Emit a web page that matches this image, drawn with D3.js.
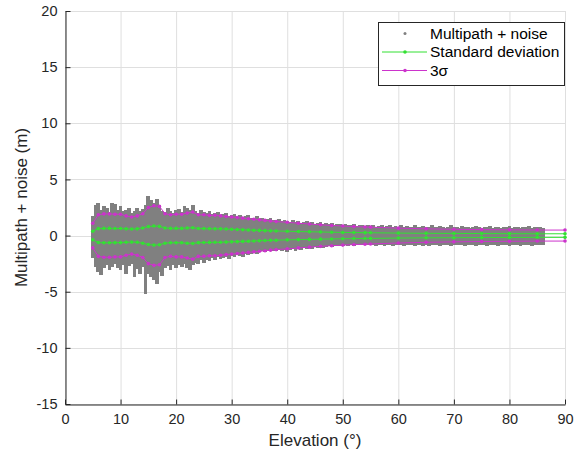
<!DOCTYPE html>
<html>
<head>
<meta charset="utf-8">
<script src="https://cdn.jsdelivr.net/npm/d3@7"></script>
<style>
  body { margin: 0; background: #fff; }
  svg { display: block; font-family: "Liberation Sans", Arial, Helvetica, sans-serif; }
</style>
</head>
<body>
<svg id="chart" width="580" height="456"></svg>
<script>
// Axis ticks
const xTicks = [0, 10, 20, 30, 40, 50, 60, 70, 80, 90];
const yTicks = [-15, -10, -5, 0, 5, 10, 15, 20];

// Multipath + noise cloud: extent of the samples in 0.5° elevation bins
const cloudElevation = [
  5, 5.5, 6, 6.5, 7, 7.5, 8, 8.5, 9, 9.5,
  10, 10.5, 11, 11.5, 12, 12.5, 13, 13.5, 14, 14.5,
  15, 15.5, 16, 16.5, 17, 17.5, 18, 18.5, 19, 19.5,
  20, 20.5, 21, 21.5, 22, 22.5, 23, 23.5, 24, 24.5,
  25, 25.5, 26, 26.5, 27, 27.5, 28, 28.5, 29, 29.5,
  30, 30.5, 31, 31.5, 32, 32.5, 33, 33.5, 34, 34.5,
  35, 35.5, 36, 36.5, 37, 37.5, 38, 38.5, 39, 39.5,
  40, 40.5, 41, 41.5, 42, 42.5, 43, 43.5, 44, 44.5,
  45, 45.5, 46, 46.5, 47, 47.5, 48, 48.5, 49, 49.5,
  50, 50.5, 51, 51.5, 52, 52.5, 53, 53.5, 54, 54.5,
  55, 55.5, 56, 56.5, 57, 57.5, 58, 58.5, 59, 59.5,
  60, 60.5, 61, 61.5, 62, 62.5, 63, 63.5, 64, 64.5,
  65, 65.5, 66, 66.5, 67, 67.5, 68, 68.5, 69, 69.5,
  70, 70.5, 71, 71.5, 72, 72.5, 73, 73.5, 74, 74.5,
  75, 75.5, 76, 76.5, 77, 77.5, 78, 78.5, 79, 79.5,
  80, 80.5, 81, 81.5, 82, 82.5, 83, 83.5, 84, 84.5,
  85, 85.5, 86
];
const cloudHigh = [
  1.7, 2.7, 2.9, 2.3, 2.6, 2.5, 2.1, 2.9, 2.8, 2.3,
  2.6, 2.2, 2.3, 2.5, 2.0, 2.2, 2.5, 2.2, 2.4, 2.7,
  3.5, 3.2, 2.9, 3.3, 2.7, 2.2, 2.1, 2.5, 2.2, 2.0,
  2.3, 2.4, 2.1, 2.6, 2.5, 2.3, 2.7, 2.2, 2.0, 2.3,
  2.1, 2.0, 2.2, 1.9, 2.0, 2.1, 1.8, 1.9, 2.0, 1.7,
  1.8, 1.9, 1.7, 1.8, 1.6, 1.7, 1.8, 1.6, 1.5, 1.7,
  1.5, 1.6, 1.4, 1.5, 1.6, 1.4, 1.4, 1.5, 1.3, 1.4,
  1.3, 1.2, 1.4, 1.2, 1.3, 1.1, 1.2, 1.3, 1.1, 1.2,
  1.0, 1.1, 1.2, 1.0, 1.1, 1.0, 1.1, 0.95, 1.0, 1.05,
  0.9, 1.0, 0.95, 0.9, 1.0, 0.85, 0.9, 0.95, 0.85, 0.9,
  0.8, 0.9, 0.8, 0.85, 0.95, 0.8, 0.85, 0.9, 0.8, 0.85,
  0.75, 0.9, 0.8, 0.85, 0.75, 0.8, 0.9, 0.75, 0.8, 0.85,
  0.75, 0.8, 0.9, 0.75, 0.8, 0.85, 0.75, 0.7, 0.8, 0.9,
  0.75, 0.8, 0.7, 0.85, 0.75, 0.8, 0.7, 0.8, 0.85, 0.75,
  0.7, 0.8, 0.75, 0.85, 0.7, 0.8, 0.75, 0.7, 0.8, 0.75,
  0.85, 0.7, 0.8, 0.75, 0.7, 0.8, 0.75, 0.85, 0.7, 0.75,
  0.8, 0.75, 0.7
];
const cloudLow = [
  -2.0, -2.8, -3.2, -3.5, -2.9, -2.6, -3.1, -2.8, -2.5, -2.9,
  -3.1, -2.6, -3.4, -2.7, -2.5, -3.7, -3.0, -3.4, -2.8, -5.2,
  -3.4, -3.7, -4.0, -4.3, -3.2, -3.6, -2.9, -2.7, -3.1, -2.6,
  -2.9, -2.6, -2.8, -2.5, -2.9, -3.1, -2.6, -2.4, -2.5, -2.2,
  -2.4, -2.2, -2.3, -2.0, -2.2, -1.9, -2.1, -2.0, -1.9, -2.1,
  -1.8, -1.9, -1.7, -1.8, -1.9, -1.6, -1.7, -1.6, -1.5, -1.6,
  -1.5, -1.4, -1.5, -1.4, -1.3, -1.4, -1.4, -1.3, -1.4, -1.3,
  -1.45, -1.3, -1.2, -1.35, -1.2, -1.25, -1.15, -1.2, -1.1, -1.2,
  -1.05, -1.1, -1.0, -1.1, -1.0, -0.95, -1.0, -0.95, -0.9, -0.95,
  -0.9, -0.85, -0.9, -0.85, -0.9, -0.8, -0.85, -0.8, -0.85, -0.8,
  -0.85, -0.8, -0.9, -0.85, -0.8, -0.95, -0.85, -0.8, -0.9, -0.85,
  -0.8, -0.85, -0.9, -0.8, -0.85, -0.8, -0.9, -0.85, -0.8, -0.9,
  -0.85, -0.9, -0.8, -0.85, -0.8, -0.9, -0.85, -0.8, -0.85, -0.9,
  -0.8, -0.85, -0.8, -0.85, -0.9, -0.8, -0.85, -0.8, -0.9, -0.85,
  -0.8, -0.85, -0.9, -0.8, -0.85, -0.8, -0.9, -0.85, -0.8, -0.85,
  -0.9, -0.8, -0.85, -0.8, -0.9, -0.85, -0.8, -0.85, -0.9, -0.8,
  -0.85, -0.8, -0.85
];

// Binned statistics of the residuals
const statElevation = [
  5, 6, 7, 8, 9, 10, 11, 12, 13, 14, 15, 16, 17, 18, 19, 20, 21, 22, 23, 24,
  25, 26, 27, 28, 29, 30, 31, 32, 33, 34, 35, 36, 37, 38,
  40, 42, 44, 46, 48, 50, 52, 54,
  55, 60, 65, 70, 75, 80, 85, 90
];
const stdDev = [
  0.38, 0.62, 0.64, 0.64, 0.63, 0.63, 0.6, 0.58, 0.6, 0.68, 0.8, 0.85, 0.82, 0.68, 0.64, 0.64, 0.64, 0.68, 0.7, 0.63,
  0.62, 0.61, 0.6, 0.6, 0.58, 0.56, 0.54, 0.52, 0.5, 0.48, 0.46, 0.44, 0.42, 0.41,
  0.38, 0.36, 0.34, 0.32, 0.3, 0.28, 0.27, 0.26,
  0.25, 0.22, 0.2, 0.19, 0.18, 0.17, 0.16, 0.16
];
const threeSigma = [
  1.1, 1.85, 1.93, 1.93, 1.9, 1.9, 1.75, 1.65, 1.75, 1.95, 2.5, 2.65, 2.6, 1.95, 1.85, 1.9, 1.9, 2.0, 2.1, 1.85,
  1.85, 1.8, 1.8, 1.75, 1.7, 1.65, 1.6, 1.55, 1.5, 1.45, 1.4, 1.35, 1.3, 1.25,
  1.18, 1.1, 1.03, 0.96, 0.9, 0.85, 0.8, 0.77,
  0.75, 0.66, 0.6, 0.56, 0.53, 0.51, 0.49, 0.49
];

const legendLabels = ["Multipath + noise", "Standard deviation", "3\u03c3"];

const colors = { cloud: "#808080", std: "#33e033", sigma3: "#cc33cc", axis: "#262626", grid: "#dfdfdf", text: "#262626" };

const svg = d3.select("#chart");
const plot = { left: 65, right: 565, top: 11, bottom: 404 };

const x = d3.scaleLinear().domain([0, 90]).range([plot.left, plot.right]);
const y = d3.scaleLinear().domain([-15, 20]).range([plot.bottom, plot.top]);

// Grid
const grid = svg.append("g");
grid.selectAll(".gx").data(xTicks).join("line")
  .attr("x1", d => x(d) + 0.5).attr("x2", d => x(d) + 0.5)
  .attr("y1", plot.top).attr("y2", plot.bottom)
  .attr("stroke", colors.grid);
grid.selectAll(".gy").data(yTicks).join("line")
  .attr("y1", d => Math.round(y(d)) + 0.5).attr("y2", d => Math.round(y(d)) + 0.5)
  .attr("x1", plot.left).attr("x2", plot.right)
  .attr("stroke", colors.grid);

// Sample cloud, one solid column per bin (edges snapped so neighbours touch)
const binHalf = 0.25;
const cloudData = d3.range(Math.min(cloudElevation.length, cloudHigh.length, cloudLow.length))
  .map(i => ({ e: cloudElevation[i], hi: cloudHigh[i], lo: cloudLow[i] }));
svg.append("g").attr("shape-rendering", "crispEdges")
  .selectAll("rect").data(cloudData).join("rect")
  .attr("x", d => Math.floor(x(d.e - binHalf)))
  .attr("width", d => Math.ceil(x(d.e + binHalf)) - Math.floor(x(d.e - binHalf)))
  .attr("y", d => Math.round(y(d.hi)))
  .attr("height", d => Math.round(y(d.lo)) - Math.round(y(d.hi)))
  .attr("fill", colors.cloud);

// Statistic lines with dot markers
const stats = statElevation.map((e, i) => ({ e, s: stdDev[i], t: threeSigma[i] }));
const seriesDefs = [
  { key: d => d.s, color: colors.std },
  { key: d => -d.s, color: colors.std },
  { key: d => d.t, color: colors.sigma3 },
  { key: d => -d.t, color: colors.sigma3 }
];
seriesDefs.forEach(def => {
  const line = d3.line().x(d => x(d.e)).y(d => y(def.key(d)));
  const g = svg.append("g");
  g.append("path").datum(stats).attr("d", line)
    .attr("fill", "none").attr("stroke", def.color).attr("stroke-width", 1);
  g.selectAll("circle").data(stats).join("circle")
    .attr("cx", d => x(d.e)).attr("cy", d => y(def.key(d))).attr("r", 1.8)
    .attr("fill", def.color);
});

// Axes (ticks pointing inward, plain hyphen for negatives)
const fmt = d => String(d);
const xAxis = d3.axisBottom(x).tickValues(xTicks).tickFormat(fmt).tickSize(-5).tickPadding(9).tickSizeOuter(0);
const yAxis = d3.axisLeft(y).tickValues(yTicks).tickFormat(fmt).tickSize(-5).tickPadding(8).tickSizeOuter(0);
const gx = svg.append("g").attr("transform", `translate(0,${plot.bottom + 0.5})`).call(xAxis);
const gy = svg.append("g").attr("transform", `translate(${plot.left + 0.5},0)`).call(yAxis);
[gx, gy].forEach(g => {
  g.select(".domain").attr("stroke", colors.axis);
  g.selectAll(".tick line").attr("stroke", colors.axis);
  g.selectAll(".tick text").attr("fill", colors.text).attr("font-size", 14.5)
    .attr("font-family", "'Liberation Sans', Arial, Helvetica, sans-serif");
});

// Axis titles
svg.append("text").attr("x", (plot.left + plot.right) / 2).attr("y", 446)
  .attr("text-anchor", "middle").attr("font-size", 17).attr("fill", colors.text)
  .text("Elevation (\u00b0)");
svg.append("text").attr("transform", `translate(27,${(plot.top + plot.bottom) / 2}) rotate(-90)`)
  .attr("text-anchor", "middle").attr("font-size", 17).attr("fill", colors.text)
  .text("Multipath + noise (m)");

// Legend
const lg = svg.append("g");
lg.append("rect").attr("x", 378.5).attr("y", 22.5).attr("width", 186).attr("height", 63)
  .attr("fill", "#fff").attr("stroke", colors.axis).attr("stroke-width", 1);
const rows = [33.5, 52, 70.5];
lg.append("circle").attr("cx", 405).attr("cy", rows[0]).attr("r", 1.5).attr("fill", colors.cloud);
[[colors.std, rows[1]], [colors.sigma3, rows[2]]].forEach(([c, yy]) => {
  lg.append("line").attr("x1", 382).attr("x2", 427).attr("y1", yy).attr("y2", yy)
    .attr("stroke", c).attr("stroke-width", 1);
  lg.append("circle").attr("cx", 405).attr("cy", yy).attr("r", 1.8).attr("fill", c);
});
lg.selectAll("text").data(legendLabels).join("text")
  .attr("x", 430).attr("y", (d, i) => rows[i] + 5)
  .attr("font-size", 15.5).attr("fill", "#000")
  .text(d => d);
</script>
</body>
</html>
